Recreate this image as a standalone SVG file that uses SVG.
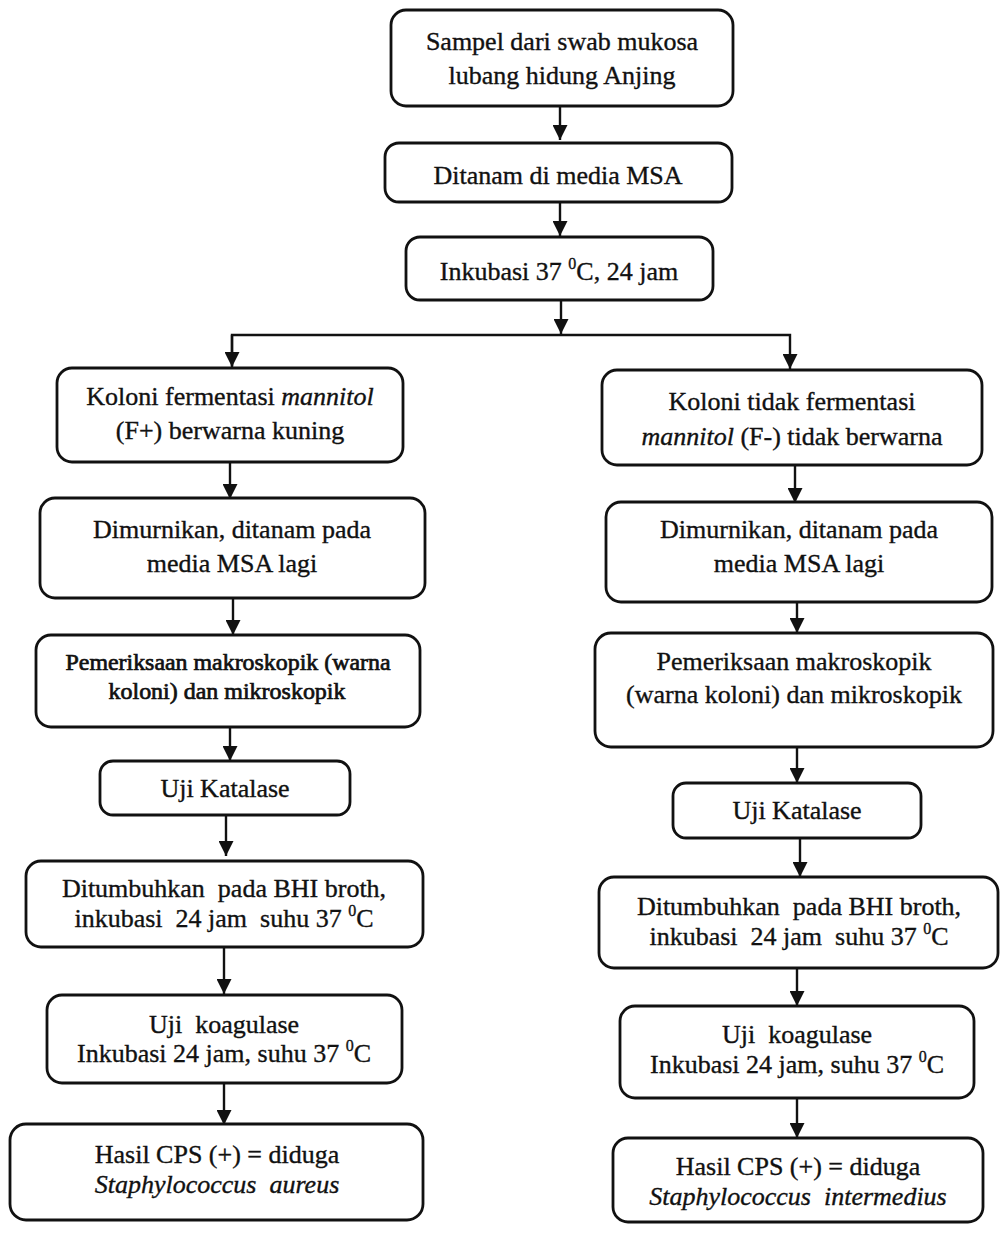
<svg xmlns="http://www.w3.org/2000/svg" width="1001" height="1243" viewBox="0 0 1001 1243">
<style>
.box{fill:#fff;stroke:#111;stroke-width:2.8}
.t{font-family:"Liberation Serif","Times New Roman",serif;font-size:26px;fill:#111;stroke:#111;stroke-width:0.35;text-anchor:middle;white-space:pre}
.s{font-size:23px;stroke-width:0.7}
.i{font-style:italic}
.c{fill:none;stroke:#111;stroke-width:2.4}
</style>
<defs>
<marker id="ah" viewBox="0 0 10 10" refX="10" refY="5" markerWidth="15" markerHeight="15" markerUnits="userSpaceOnUse" orient="auto">
<path d="M0,0 L10,5 L0,10 z" fill="#111"/>
</marker>
</defs>
<rect width="1001" height="1243" fill="#fff"/>
<g id="connectors">
<line class="c" x1="560" y1="106" x2="560" y2="140" marker-end="url(#ah)"/>
<line class="c" x1="560" y1="202" x2="560" y2="236" marker-end="url(#ah)"/>
<line class="c" x1="561" y1="300" x2="561" y2="334" marker-end="url(#ah)"/>
<polyline class="c" points="232,366 232,335 790,335 790,369" marker-end="url(#ah)"/>
<line class="c" x1="232" y1="335" x2="232" y2="367" marker-end="url(#ah)"/>
<line class="c" x1="230" y1="462" x2="230" y2="499" marker-end="url(#ah)"/>
<line class="c" x1="795" y1="465" x2="795" y2="503" marker-end="url(#ah)"/>
<line class="c" x1="233" y1="598" x2="233" y2="635" marker-end="url(#ah)"/>
<line class="c" x1="797" y1="602" x2="797" y2="633" marker-end="url(#ah)"/>
<line class="c" x1="230" y1="727" x2="230" y2="761" marker-end="url(#ah)"/>
<line class="c" x1="797" y1="747" x2="797" y2="783" marker-end="url(#ah)"/>
<line class="c" x1="226" y1="815" x2="226" y2="856" marker-end="url(#ah)"/>
<line class="c" x1="800" y1="838" x2="800" y2="877" marker-end="url(#ah)"/>
<line class="c" x1="224" y1="947" x2="224" y2="994" marker-end="url(#ah)"/>
<line class="c" x1="797" y1="968" x2="797" y2="1006" marker-end="url(#ah)"/>
<line class="c" x1="224" y1="1083" x2="224" y2="1125" marker-end="url(#ah)"/>
<line class="c" x1="797" y1="1098" x2="797" y2="1138" marker-end="url(#ah)"/>
</g>
<g id="n1"><rect class="box" x="391" y="10" width="342" height="96" rx="15"/>
<text class="t" x="562" y="50">Sampel dari swab mukosa</text>
<text class="t" x="562" y="84">lubang hidung Anjing</text></g>
<g id="n2"><rect class="box" x="385" y="143" width="347" height="59" rx="14"/>
<text class="t" x="558" y="184">Ditanam di media MSA</text></g>
<g id="n3"><rect class="box" x="406" y="237" width="307" height="63" rx="14"/>
<text class="t" x="559" y="280">Inkubasi 37 <tspan font-size="16" dy="-11">0</tspan><tspan dy="11">C, 24 jam</tspan></text></g>
<g id="l1"><rect class="box" x="57" y="368" width="346" height="94" rx="15"/>
<text class="t" x="230" y="405">Koloni fermentasi <tspan class="i">mannitol</tspan></text>
<text class="t" x="230" y="439">(F+) berwarna kuning</text></g>
<g id="r1"><rect class="box" x="602" y="370" width="380" height="95" rx="15"/>
<text class="t" x="792" y="410">Koloni tidak fermentasi</text>
<text class="t" x="792" y="445"><tspan class="i">mannitol</tspan> (F-) tidak berwarna</text></g>
<g id="l2"><rect class="box" x="40" y="498" width="385" height="100" rx="15"/>
<text class="t" x="232" y="538">Dimurnikan, ditanam pada</text>
<text class="t" x="232" y="572">media MSA lagi</text></g>
<g id="r2"><rect class="box" x="606" y="502" width="386" height="100" rx="15"/>
<text class="t" x="799" y="538">Dimurnikan, ditanam pada</text>
<text class="t" x="799" y="572">media MSA lagi</text></g>
<g id="l3"><rect class="box" x="36" y="635" width="384" height="92" rx="15"/>
<text class="t s" x="228" y="670" textLength="325" lengthAdjust="spacingAndGlyphs">Pemeriksaan makroskopik (warna</text>
<text class="t s" x="227" y="699" textLength="237" lengthAdjust="spacingAndGlyphs">koloni) dan mikroskopik</text></g>
<g id="r3"><rect class="box" x="595" y="633" width="398" height="114" rx="16"/>
<text class="t" x="794" y="670">Pemeriksaan makroskopik</text>
<text class="t" x="794" y="703">(warna koloni) dan mikroskopik</text></g>
<g id="l4"><rect class="box" x="100" y="761" width="250" height="54" rx="13"/>
<text class="t" x="225" y="797">Uji Katalase</text></g>
<g id="r4"><rect class="box" x="673" y="783" width="248" height="55" rx="13"/>
<text class="t" x="797" y="819">Uji Katalase</text></g>
<g id="l5"><rect class="box" x="26" y="861" width="397" height="86" rx="15"/>
<text class="t" x="224" y="897">Ditumbuhkan  pada BHI broth,</text>
<text class="t" x="224" y="927">inkubasi  24 jam  suhu 37 <tspan font-size="16" dy="-11">0</tspan><tspan dy="11">C</tspan></text></g>
<g id="r5"><rect class="box" x="599" y="877" width="399" height="91" rx="15"/>
<text class="t" x="799" y="915">Ditumbuhkan  pada BHI broth,</text>
<text class="t" x="799" y="945">inkubasi  24 jam  suhu 37 <tspan font-size="16" dy="-11">0</tspan><tspan dy="11">C</tspan></text></g>
<g id="l6"><rect class="box" x="47" y="995" width="355" height="88" rx="15"/>
<text class="t" x="224" y="1033">Uji  koagulase</text>
<text class="t" x="224" y="1062">Inkubasi 24 jam, suhu 37 <tspan font-size="16" dy="-11">0</tspan><tspan dy="11">C</tspan></text></g>
<g id="r6"><rect class="box" x="620" y="1006" width="354" height="92" rx="15"/>
<text class="t" x="797" y="1043">Uji  koagulase</text>
<text class="t" x="797" y="1073">Inkubasi 24 jam, suhu 37 <tspan font-size="16" dy="-11">0</tspan><tspan dy="11">C</tspan></text></g>
<g id="l7"><rect class="box" x="10" y="1124" width="413" height="96" rx="16"/>
<text class="t" x="217" y="1163">Hasil CPS (+) = diduga</text>
<text class="t i" x="217" y="1193">Staphylococcus  aureus</text></g>
<g id="r7"><rect class="box" x="613" y="1138" width="370" height="84" rx="15"/>
<text class="t" x="798" y="1175">Hasil CPS (+) = diduga</text>
<text class="t i" x="798" y="1205">Staphylococcus  intermedius</text></g>
</svg>
